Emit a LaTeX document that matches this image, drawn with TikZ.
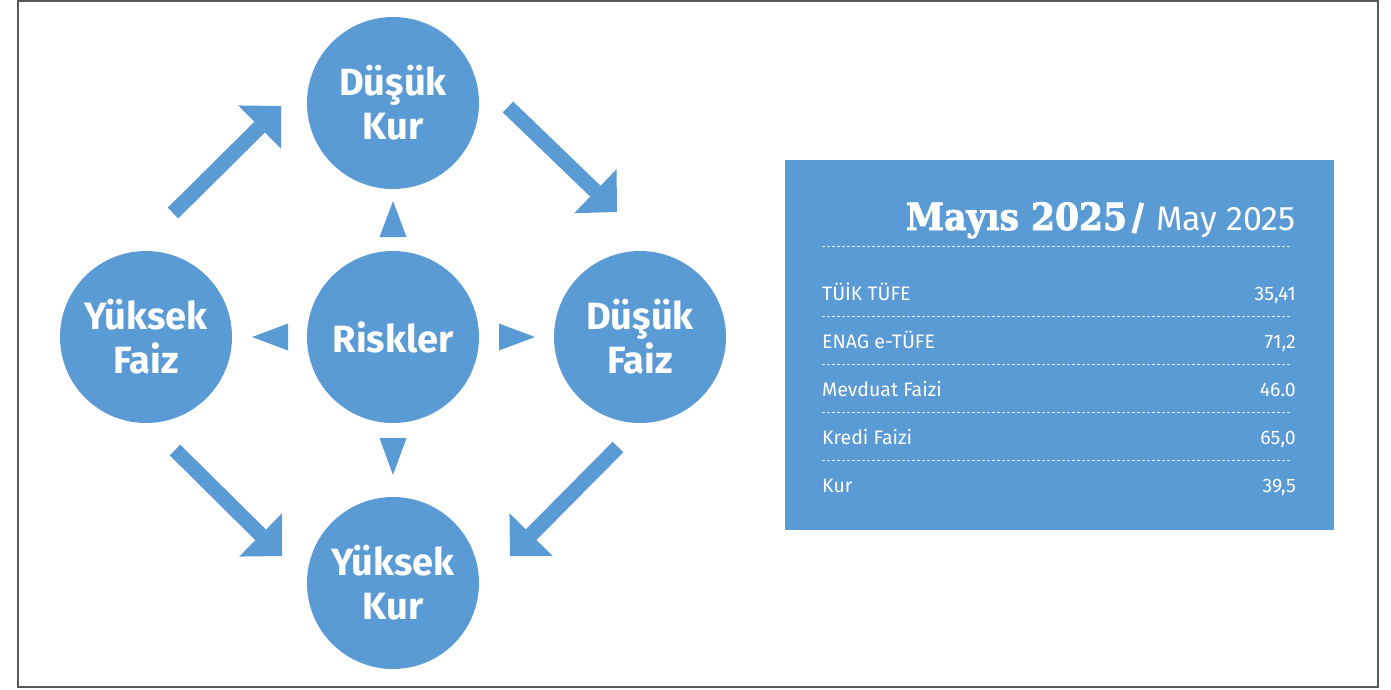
\documentclass[tikz,border=0pt]{standalone}
\usepackage{fontspec}
\setmainfont{Fira Sans}
\newfontfamily\slabfont{DejaVu Serif Bold}[FakeBold=2.2, FakeStretch=0.92]
\usetikzlibrary{arrows.meta, positioning}
\definecolor{riskblue}{HTML}{5B9BD5}
\tikzset{
x=1pt, y=-1pt, % one unit is one pixel, y runs downwards
circ/.style={circle, fill=riskblue, minimum size=172pt, inner sep=0pt, text=white, align=center,
  font=\fontsize{38}{44}\selectfont\bfseries}, % the five round nodes
bigarrow/.style={draw=riskblue, line width=15pt,
  -{Triangle[length=30pt, width=61pt, line width=0pt]}}, % block arrows between the circles
hint/.style={fill=riskblue}, % small triangles round Riskler
rowdash/.style={draw=white!85!riskblue, line width=0.9pt, dash pattern=on 3pt off 2pt},
rowtext/.style={text=white, inner sep=0pt, font=\fontsize{19.5}{22}\selectfont},
}

\begin{document}
\begin{tikzpicture}
\useasboundingbox (0,0) rectangle (1391,689);
\draw[gray!70!black, line width=1.5pt] (18,1) rectangle (1378,687);

% the cycle
\node[circ] (risk) at (393,337) {Riskler};
\node[circ, above of=risk, node distance=234pt] (dk) {Düşük\\Kur};
\node[circ, below of=risk, node distance=246pt] (yk) {Yüksek\\Kur};
\node[circ, left of=risk, node distance=247pt] (yf) {Yüksek\\Faiz};
\node[circ, right of=risk, node distance=247pt] (df) {Düşük\\Faiz};

\draw[bigarrow] ([shift={(27,-124)}]yf.center) -- ([shift={(-112,3)}]dk.center);
\draw[bigarrow] ([shift={(115,4)}]dk.center) -- ([shift={(-23,-125)}]df.center);
\draw[bigarrow] ([shift={(-22,110)}]df.center) -- ([shift={(117,-27)}]yk.center);
\draw[bigarrow] ([shift={(29,113)}]yf.center) -- ([shift={(-111,-27)}]yk.center);

\foreach \ang/\near/\far in {0/106/142, 90/100/136, 180/105/141, 270/101/138}
  \fill[hint, shift={(risk.center)}, rotate=\ang] (\near,-13.5) -- (\far,0) -- (\near,13.5) -- cycle;

% the table
\node[fill=riskblue, minimum width=549pt, minimum height=370pt, inner sep=0pt, anchor=north west] (tbl) at (785,160) {};
\node[anchor=base east, inner sep=0pt, text=white] (title) at (1296,230)
  {{\slabfont\fontsize{37.5}{40}\selectfont Mayıs 2025} {\fontsize{34}{40}\selectfont\bfseries/\mdseries\ May 2025}};
\foreach \yy in {246,316,364,412,460}
  \draw[rowdash] (822,\yy) -- (1291,\yy);
\foreach \lab/\val [count=\i] in {TÜİK TÜFE/{35,41}, ENAG e-TÜFE/{71,2}, Mevduat Faizi/46.0, Kredi Faizi/{65,0}, Kur/{39,5}} {
  \node[rowtext, anchor=base west] (lab\i) at (822,252+48*\i) {\lab};
  \node[rowtext, anchor=base east] (val\i) at (1296,252+48*\i) {\val};
}
\end{tikzpicture}
\end{document}
